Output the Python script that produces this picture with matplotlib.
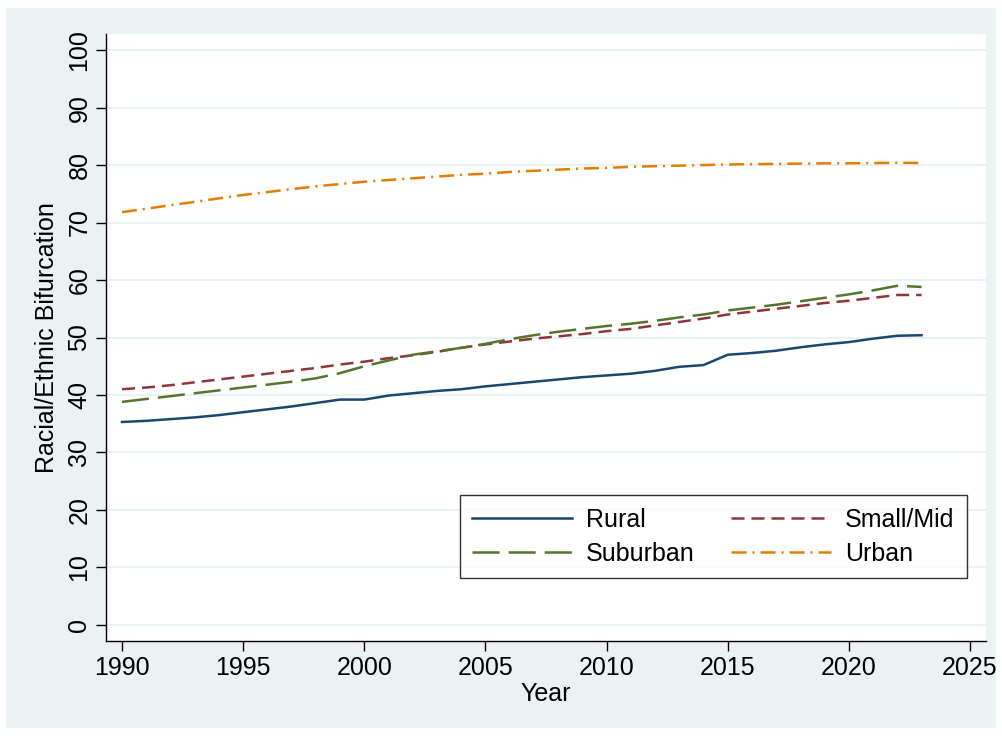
import matplotlib
matplotlib.use("Agg")
import matplotlib.pyplot as plt
from matplotlib.patches import Rectangle

# data
years = list(range(1990, 2024))
rural = [35.3, 35.5, 35.8, 36.1, 36.5, 37.0, 37.5, 38.0, 38.6, 39.2,
         39.2, 39.9, 40.3, 40.7, 41.0, 41.5, 41.9, 42.3, 42.7, 43.1,
         43.4, 43.7, 44.2, 44.9, 45.2, 47.0, 47.3, 47.7, 48.3, 48.8,
         49.2, 49.8, 50.3, 50.4]
small_mid = [41.0, 41.3, 41.7, 42.2, 42.7, 43.2, 43.7, 44.2, 44.7, 45.3,
             45.8, 46.4, 46.9, 47.5, 48.2, 48.8, 49.3, 49.8, 50.2, 50.6,
             51.1, 51.5, 52.1, 52.7, 53.3, 54.0, 54.5, 55.0, 55.5, 56.0,
             56.4, 56.9, 57.4, 57.4]
suburban = [38.8, 39.3, 39.8, 40.3, 40.8, 41.3, 41.8, 42.3, 42.9, 43.8,
            45.0, 46.0, 47.0, 47.6, 48.2, 48.9, 49.7, 50.4, 51.0, 51.5,
            52.0, 52.4, 52.9, 53.5, 54.0, 54.7, 55.2, 55.7, 56.3, 56.9,
            57.5, 58.2, 59.0, 58.8]
urban = [71.8, 72.4, 73.0, 73.6, 74.2, 74.8, 75.3, 75.8, 76.3, 76.7,
         77.1, 77.4, 77.7, 78.0, 78.3, 78.5, 78.8, 79.0, 79.2, 79.4,
         79.5, 79.7, 79.8, 79.9, 80.0, 80.1, 80.15, 80.2, 80.25, 80.3,
         80.3, 80.35, 80.4, 80.35]

xticks = list(range(1990, 2030, 5))
yticks = list(range(0, 110, 10))

bg = "#EAF2F3"
fs = 18
plt.rcParams["font.family"] = ["Liberation Sans", "DejaVu Sans"]
plt.rcParams["lines.scale_dashes"] = False

fig = plt.figure(figsize=(10.02, 7.36), dpi=100)
fig.patch.set_facecolor("white")
fig.patches.append(Rectangle((6 / 1002, 8 / 736), 990 / 1002, 720 / 736,
                             transform=fig.transFigure, facecolor=bg,
                             edgecolor="none", zorder=-10))

ax = fig.add_axes([106 / 1002, 1 - 641 / 736, 880 / 1002, 607 / 736])
ax.set_facecolor("white")

lw = 1.8
ax.plot(years, rural, color="#1A476F", lw=lw, label="Rural")
ax.plot(years, small_mid, color="#90353B", lw=lw, linestyle=(0, (9.4, 5)), label="Small/Mid")
ax.plot(years, suburban, color="#55752F", lw=lw, linestyle=(0, (19.5, 6.5)), label="Suburban")
ax.plot(years, urban, color="#E37E00", lw=lw, linestyle=(0, (10.8, 4.3, 1.5, 4.3)), label="Urban")

ax.set_xlim(1989.34, 2025.66)
ax.set_ylim(-2.8, 102.8)
ax.set_xticks(xticks)
ax.set_yticks(yticks)
ax.grid(axis="y", color=bg, lw=1.5)
ax.set_axisbelow(True)
for s in ["top", "right"]:
    ax.spines[s].set_visible(False)
for s in ["left", "bottom"]:
    ax.spines[s].set_linewidth(1.0)
ax.tick_params(length=7, width=1.0, labelsize=fs)
plt.setp(ax.get_yticklabels(), rotation=90, va="center")

ax.set_xlabel("Year", fontsize=fs, labelpad=2)
ax.set_ylabel("Racial/Ethnic Bifurcation", fontsize=fs, labelpad=6)

# reorder handles to Rural, Small/Mid / Suburban, Urban in two columns
h, l = ax.get_legend_handles_labels()
order = [0, 2, 1, 3]
leg = ax.legend([h[i] for i in order], [l[i] for i in order], ncol=2,
                loc="upper left", bbox_to_anchor=(0.402, 0.2405),
                fontsize=fs, frameon=True, fancybox=False,
                handlelength=4.0, handletextpad=0.55, borderpad=0.5,
                labelspacing=0.4, columnspacing=1.45, borderaxespad=0)
leg.get_frame().set_edgecolor("black")
leg.get_frame().set_linewidth(1.0)

fig.savefig("out.png", dpi=100)
